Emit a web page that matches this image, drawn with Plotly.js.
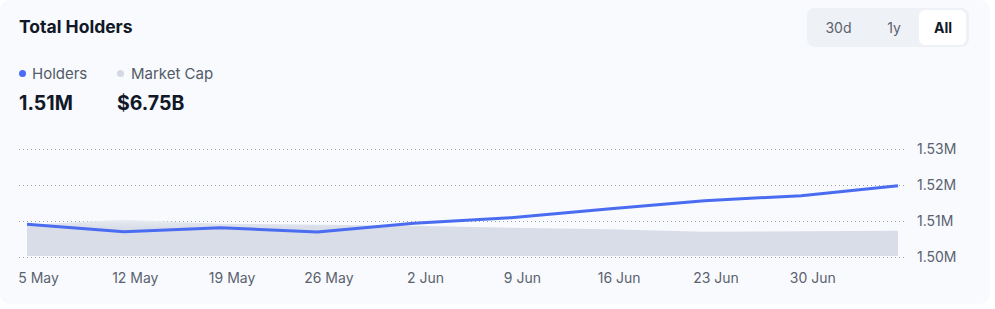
<!DOCTYPE html>
<html>
<head>
<meta charset="utf-8">
<script src="https://cdn.plot.ly/plotly-3.0.1.min.js"></script>
<style>
  html, body { margin:0; padding:0; background:#ffffff; width:995px; height:309px; overflow:hidden; font-family: Inter, "Noto Sans", sans-serif; }
  #card { position:absolute; left:0; top:0; width:990px; height:304px; background:#f8fafd; border-radius:10px; }
  .abs { position:absolute; white-space:nowrap; }
  #title { left:19px; top:16px; font-size:17.5px; line-height:22px; font-weight:700; color:#111827; }
  .dot { position:absolute; width:7px; height:7px; border-radius:50%; }
  .leg { font-size:15px; line-height:18px; color:#535a68; }
  .val { font-size:19.5px; line-height:24px; font-weight:700; color:#111827; }
  #seg { position:absolute; left:807px; top:8px; width:162px; height:39px; background:#eef1f5; border-radius:8px; }
  #allbtn { position:absolute; left:919px; top:10px; width:47px; height:35px; background:#ffffff; border-radius:6px; }
  .btn { position:absolute; top:19px; font-size:14px; line-height:18px; color:#5b6270; transform:translateX(-50%); }
  #plot { position:absolute; left:0; top:0; width:995px; height:309px; }
</style>
</head>
<body>
<div id="card"></div>
<div id="title" class="abs">Total Holders</div>
<div class="dot" style="left:19px; top:70px; background:#4a6cf7;"></div>
<div class="abs leg" style="left:32px; top:65px;">Holders</div>
<div class="dot" style="left:117px; top:70px; background:#d3d8e3;"></div>
<div class="abs leg" style="left:131px; top:65px;">Market Cap</div>
<div class="abs val" style="left:19px; top:91px;">1.51M</div>
<div class="abs val" style="left:117px; top:91px;">$6.75B</div>
<div id="seg"></div>
<div id="allbtn"></div>
<div class="btn" style="left:838.5px;">30d</div>
<div class="btn" style="left:894px;">1y</div>
<div class="btn" style="left:943px; color:#111827; font-weight:700;">All</div>
<div id="plot"></div>
<script>
// ---- data ----
const dates = ['2025-05-05','2025-05-12','2025-05-19','2025-05-26','2025-06-02','2025-06-09','2025-06-16','2025-06-23','2025-06-30','2025-07-07'];
const holders = [1509080, 1507030, 1508140, 1506940, 1509360, 1510920, 1513330, 1515640, 1517030, 1519810];
const marketCapB = [8.40, 9.74, 8.67, 8.40, 8.14, 7.60, 7.20, 6.54, 6.67, 6.75];
const xTickVals = ['2025-05-05','2025-05-12','2025-05-19','2025-05-26','2025-06-02','2025-06-09','2025-06-16','2025-06-23','2025-06-30'];
const xTickText = ['5 May','12 May','19 May','26 May','2 Jun','9 Jun','16 Jun','23 Jun','30 Jun'];
const yTickVals = [1500000, 1510000, 1520000, 1530000];
const yTickText = ['1.50M','1.51M','1.52M','1.53M'];

const traces = [
  {
    x: dates, y: marketCapB, yaxis: 'y', type: 'scatter', mode: 'lines',
    line: { width: 0, color: 'rgba(0,0,0,0)' },
    fill: 'tozeroy',
    fillcolor: '#d8dde8',
    fillgradient: { type: 'vertical', colorscale: [[0, '#d8dde8'], [0.78, '#d8dde8'], [1, '#e9ecf2']] },
    hoverinfo: 'skip', showlegend: false
  },
  {
    x: dates, y: holders, yaxis: 'y2', type: 'scatter', mode: 'lines',
    line: { width: 3, color: '#4a6cf0' },
    showlegend: false
  }
];

const layout = {
  width: 995, height: 309,
  margin: { l: 19, r: 90, t: 145, b: 48, pad: 0 },
  paper_bgcolor: 'rgba(0,0,0,0)',
  plot_bgcolor: 'rgba(0,0,0,0)',
  font: { family: 'Inter, "Noto Sans", sans-serif', size: 14, color: '#5b6270' },
  showlegend: false,
  xaxis: {
    type: 'date',
    range: ['2025-05-04 10:06', '2025-07-07 12:09'],
    tickvals: xTickVals.map(d => d + ' 20:00'), ticktext: xTickText,
    showgrid: false, zeroline: false, showline: false, ticks: '',
    ticklabelstandoff: 7,
    tickfont: { size: 14, color: '#5b6270' },
    fixedrange: true
  },
  yaxis: {
    range: [-1.33, 29.75], visible: false, showgrid: false, zeroline: false, fixedrange: true
  },
  yaxis2: {
    overlaying: 'y', side: 'right',
    range: [1498889, 1531111],
    tickvals: yTickVals, ticktext: yTickText,
    showgrid: true, gridcolor: '#9ea3ad', gridwidth: 1, griddash: '1px,3px',
    zeroline: false, showline: false, ticks: '',
    ticklabelstandoff: 11,
    tickfont: { size: 14, color: '#5b6270' },
    fixedrange: true
  }
};

Plotly.newPlot('plot', traces, layout, { displayModeBar: false, staticPlot: true });
</script>
</body>
</html>
